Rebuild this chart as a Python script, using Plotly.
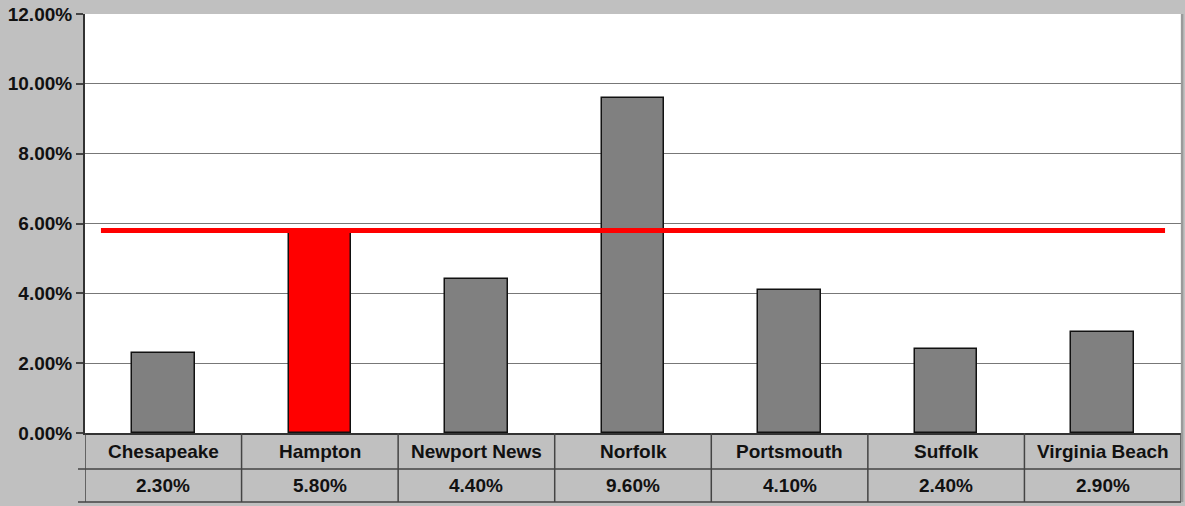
import plotly.graph_objects as go

CITIES = ["Chesapeake", "Hampton", "Newport News", "Norfolk", "Portsmouth", "Suffolk", "Virginia Beach"]
RATES = [0.023, 0.058, 0.044, 0.096, 0.041, 0.024, 0.029]
HIGHLIGHT = "Hampton"
REF_LINE = 0.058
Y_TICKS = [0.0, 0.02, 0.04, 0.06, 0.08, 0.10, 0.12]

W, H = 1185, 506
ML, MR, MT, MB = 85, 4, 14, 73
plot_h = H - MT - MB
row1 = -36 / plot_h
row2 = -69 / plot_h

idx = list(range(len(CITIES)))
colors = ["#ff0000" if c == HIGHLIGHT else "#808080" for c in CITIES]

fig = go.Figure()
fig.add_trace(go.Bar(
    x=idx, y=RATES, width=0.40,
    marker=dict(color=colors, line=dict(color="#111111", width=1.5)),
    hoverinfo="skip", showlegend=False,
))
fig.add_trace(go.Scatter(
    x=idx, y=[REF_LINE] * len(idx), xaxis="x2", mode="lines",
    line=dict(color="#ff0000", width=5), hoverinfo="skip", showlegend=False,
))

font_b = dict(family="Liberation Sans, Arial, sans-serif", size=19, color="#111111", weight="bold")

ann = []
shapes = []
for i, (c, v) in enumerate(zip(CITIES, RATES)):
    ann.append(dict(x=i, y=row1 / 2, xref="x", yref="paper", text=c, showarrow=False,
                    font=font_b, xanchor="center", yanchor="middle"))
    ann.append(dict(x=i, y=(row1 + row2) / 2, xref="x", yref="paper", text=f"{v:.2%}",
                    showarrow=False, font=font_b, xanchor="center", yanchor="middle"))
for b in range(len(CITIES) + 1):
    shapes.append(dict(type="line", xref="x", yref="paper", x0=b - 0.5, x1=b - 0.5,
                       y0=0, y1=row2, line=dict(color="#444444", width=1.5)))
for yy in (row1, row2):
    shapes.append(dict(type="line", xref="paper", yref="paper", x0=-7 / (W - ML - MR), x1=1,
                       y0=yy, y1=yy, line=dict(color="#444444", width=1.5)))
# right border of the plot/table
shapes.append(dict(type="line", xref="paper", yref="paper", x0=1.001, x1=1.001,
                   y0=row2, y1=1, line=dict(color="#9a9a9a", width=2.5)))

fig.update_layout(
    width=W, height=H,
    margin=dict(l=ML, r=MR, t=MT, b=MB),
    paper_bgcolor="#c0c0c0", plot_bgcolor="#ffffff",
    xaxis=dict(range=[-0.5, len(CITIES) - 0.5], showticklabels=False, ticks="",
               showgrid=False, zeroline=False, showline=True, linecolor="#333333", linewidth=2,
               fixedrange=True),
    xaxis2=dict(range=[-0.09, len(CITIES) - 1 + 0.09], overlaying="x", visible=False,
                fixedrange=True),
    yaxis=dict(range=[0, 0.12], tickvals=Y_TICKS, tickformat=".2%",
               tickfont=font_b, ticks="outside", ticklen=7, tickcolor="#444444", tickwidth=1.5,
               showgrid=True, gridcolor="#777777", gridwidth=1.3, zeroline=False,
               showline=True, linecolor="#333333", linewidth=2, fixedrange=True),
    annotations=ann, shapes=shapes,
    bargap=0,
)

fig.write_html("out.html", config={"displayModeBar": False},
               post_script="document.body.style.margin='0';document.body.style.padding='0';")
